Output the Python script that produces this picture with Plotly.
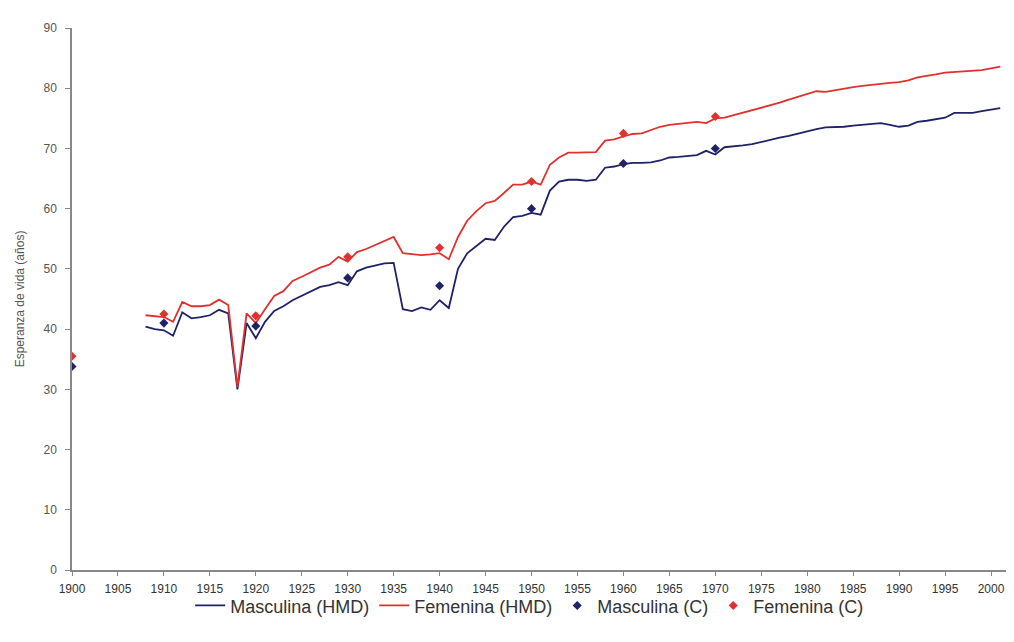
import plotly.graph_objects as go

years = list(range(1908, 2002))

male_hmd = [40.4, 40.0, 39.8, 38.9, 42.8, 41.8, 42.0, 42.3, 43.2, 42.6,
            30.0, 41.0, 38.5, 41.2, 43.0, 43.8, 44.8, 45.5, 46.2, 47.0,
            47.3, 47.8, 47.3, 49.6, 50.2, 50.5, 50.9, 51.0, 43.3, 43.0,
            43.6, 43.2, 44.8, 43.5, 50.0, 52.6, 53.8, 55.0, 54.8, 57.0,
            58.6, 58.8, 59.3, 59.0, 63.0, 64.5, 64.8, 64.8, 64.6, 64.8,
            66.8, 67.0, 67.4, 67.6, 67.6, 67.7, 68.0, 68.5, 68.6, 68.8,
            68.9, 69.6, 69.0, 70.2, 70.3, 70.5, 70.7, 71.1, 71.4, 71.8,
            72.1, 72.5, 72.8, 73.2, 73.5, 73.5, 73.6, 73.8, 73.9, 74.0,
            74.2, 73.9, 73.6, 73.8, 74.4, 74.6, 74.9, 75.1, 75.9, 75.9,
            75.9, 76.2, 76.5, 76.7]

female_hmd = [42.3, 42.2, 42.0, 41.2, 44.5, 43.8, 43.8, 44.0, 44.9, 44.0,
              30.4, 42.6, 41.0, 43.3, 45.5, 46.3, 48.0, 48.7, 49.5, 50.2,
              50.7, 52.0, 51.2, 52.8, 53.3, 54.0, 54.6, 55.3, 52.6, 52.4,
              52.3, 52.4, 52.6, 51.6, 55.3, 58.0, 59.6, 60.9, 61.3, 62.6,
              64.0, 64.0, 64.5, 64.0, 67.3, 68.5, 69.3, 69.3, 69.3, 69.4,
              71.3, 71.5, 72.0, 72.4, 72.5, 73.0, 73.6, 73.9, 74.1, 74.3,
              74.4, 74.2, 75.0, 75.1, 75.5, 76.0, 76.4, 76.8, 77.2, 77.6,
              78.1, 78.6, 79.0, 79.5, 79.4, 79.7, 80.0, 80.2, 80.4, 80.6,
              80.8, 80.9, 81.0, 81.3, 81.8, 82.0, 82.3, 82.6, 82.7, 82.8,
              82.8, 83.0, 83.3, 83.6]

census_years = [1900, 1910, 1920, 1930, 1940, 1950, 1960, 1970]
male_c = [33.8, 41.0, 40.5, 48.5, 47.2, 60.0, 67.5, 70.0]
female_c = [35.5, 42.5, 42.2, 52.0, 53.5, 64.5, 72.5, 75.3]

x_ticks = list(range(1900, 2001, 5))
y_ticks = list(range(0, 91, 10))

NAVY = "#1f2266"
RED = "#e0312f"
GRAY = "#888888"

fig = go.Figure()
fig.add_trace(go.Scatter(x=years, y=male_hmd, mode="lines", name="Masculina (HMD)",
                         line=dict(color=NAVY, width=1.8)))
fig.add_trace(go.Scatter(x=years, y=female_hmd, mode="lines", name="Femenina (HMD)",
                         line=dict(color=RED, width=1.8)))
fig.add_trace(go.Scatter(x=census_years, y=male_c, mode="markers", name="Masculina (C)",
                         marker=dict(color=NAVY, size=7, symbol="diamond")))
fig.add_trace(go.Scatter(x=census_years, y=female_c, mode="markers", name="Femenina (C)",
                         marker=dict(color=RED, size=7, symbol="diamond")))

fig.update_layout(
    width=998, height=626,
    margin=dict(l=64, r=0, t=20, b=64),
    paper_bgcolor="white", plot_bgcolor="white",
    font=dict(family="Liberation Sans, Arial, sans-serif", size=12, color="#444444"),
    showlegend=True,
    legend=dict(orientation="h", x=0.49, xanchor="center", y=-0.066, yanchor="middle",
                font=dict(size=18, color="#333333"), itemwidth=30,
                bgcolor="rgba(0,0,0,0)", traceorder="normal"),
    xaxis=dict(range=[1900, 2001.63], tickmode="array", tickvals=x_ticks,
               ticktext=[str(v) for v in x_ticks],
               showgrid=False, zeroline=False, showline=True, linecolor=GRAY, linewidth=1.5,
               ticks="outside", ticklen=4, tickcolor=GRAY, ticklabelstandoff=3,
               tickfont=dict(size=12, color="#333333"), automargin=False),
    yaxis=dict(range=[0, 90], tickmode="array", tickvals=y_ticks,
               showgrid=False, zeroline=False, showline=True, linecolor=GRAY, linewidth=1.5,
               ticks="outside", ticklen=5, tickcolor=GRAY, ticklabelstandoff=6,
               tickfont=dict(size=12, color="#555555"), automargin=False,
               title=dict(text="Esperanza de vida (años)", font=dict(size=12, color="#555555"),
                          standoff=16)),
)

fig.write_html("out.html")
